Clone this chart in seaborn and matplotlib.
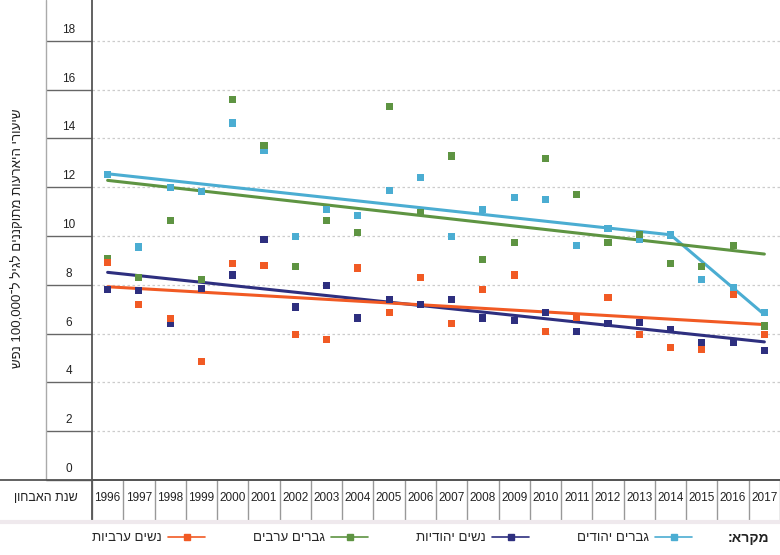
import pandas as pd
import matplotlib
matplotlib.use("Agg")
import matplotlib.pyplot as plt
from matplotlib.lines import Line2D
from matplotlib.transforms import blended_transform_factory
import seaborn as sns

# data (rate per 100,000)
years = list(range(1996, 2018))

jewish_men = [12.52, 9.55, 11.97, 11.84, 14.63, 13.5, 9.97, 11.09, 10.85, 11.86, 12.4,
              9.97, 11.1, 11.56, 11.5, 9.62, 10.29, 9.84, 10.04, 8.2, 7.88, 6.86]
arab_men = [9.08, 8.31, 10.64, 8.22, 15.61, 13.7, 8.74, 10.63, 10.14, 15.31, 10.96,
            13.28, 9.02, 9.73, 13.17, 11.71, 9.73, 10.07, 8.88, 8.74, 9.62, 6.31]
jewish_women = [7.79, 7.75, 6.42, 7.86, 8.4, 9.84, 7.09, 7.99, 6.64, 7.39, 7.19,
                7.39, 6.64, 6.54, 6.87, 6.08, 6.42, 6.46, 6.17, 5.64, 5.64, 5.29]
arab_women = [8.91, 7.19, 6.63, 4.86, 8.88, 8.8, 5.97, 5.77, 8.69, 6.87, 8.31,
              6.42, 7.8, 8.4, 6.08, 6.65, 7.49, 5.97, 5.42, 5.33, 7.61, 5.97]

# trend lines
trend_years_jm = [1996, 2014, 2017]
trend_jm = [12.55, 10.05, 6.78]
trend_years = [1996, 2017]
trend_am = [12.28, 9.26]
trend_jw = [8.51, 5.66]
trend_aw = [7.92, 6.37]

y_ticks = list(range(0, 20, 2))

names = ["גברים יהודים", "נשים יהודיות", "גברים ערבים", "נשים ערביות"]
colors = ["#4BADD2", "#2E2F7F", "#5E9442", "#F15A24"]


def heb(s):
    # matplotlib has no bidi, so give hebrew in visual order
    return s[::-1]


points = pd.concat([
    pd.DataFrame({"year": years, "rate": jewish_men, "group": names[0]}),
    pd.DataFrame({"year": years, "rate": jewish_women, "group": names[1]}),
    pd.DataFrame({"year": years, "rate": arab_men, "group": names[2]}),
    pd.DataFrame({"year": years, "rate": arab_women, "group": names[3]}),
])
trends = pd.concat([
    pd.DataFrame({"year": trend_years_jm, "rate": trend_jm, "group": names[0]}),
    pd.DataFrame({"year": trend_years, "rate": trend_jw, "group": names[1]}),
    pd.DataFrame({"year": trend_years, "rate": trend_am, "group": names[2]}),
    pd.DataFrame({"year": trend_years, "rate": trend_aw, "group": names[3]}),
])
palette = dict(zip(names, colors))

sns.set_theme(style="white")
plt.rcParams["font.family"] = ["Liberation Sans", "DejaVu Sans"]

fig = plt.figure(figsize=(7.8, 5.55), dpi=100)
ax = fig.add_axes([92 / 780, 75 / 555, 688 / 780, 480 / 555])

sns.scatterplot(data=points, x="year", y="rate", hue="group", palette=palette,
                marker="s", s=26, linewidth=0, legend=False, ax=ax, zorder=3)
sns.lineplot(data=trends, x="year", y="rate", hue="group", palette=palette,
             linewidth=2.2, legend=False, ax=ax, zorder=2)

ax.set_xlim(1995.5, 2017.5)
ax.set_ylim(0, 480 / 24.4)
ax.set_xlabel("")
ax.set_ylabel("")

# y grid + long ticks into the left column
ax.set_yticks(y_ticks)
ax.set_yticklabels([])
ax.tick_params(axis="y", length=33, width=1, color="#666666", direction="out", left=True)
ax.yaxis.grid(True, color="#cccccc", linestyle=(0, (2, 2)), linewidth=0.9)
ax.xaxis.grid(False)

# x: separators as major ticks, years as minor tick labels
ax.set_xticks([y - 0.5 for y in years] + [2017.5])
ax.set_xticklabels([])
ax.set_xticks(years, minor=True)
ax.set_xticklabels([str(y) for y in years], minor=True, fontsize=8.5, color="#222222")
ax.tick_params(axis="x", which="major", length=29, width=1, color="#999999",
               direction="out", bottom=True)
ax.tick_params(axis="x", which="minor", length=0, pad=8.5)

for side in ["top", "right"]:
    ax.spines[side].set_visible(False)
ax.spines["left"].set_color("#555555")
ax.spines["left"].set_linewidth(1.3)
ax.spines["bottom"].set_color("#555555")
ax.spines["bottom"].set_linewidth(1.3)

# y tick labels sit in the cell above each line
trans = blended_transform_factory(ax.transAxes, ax.transData)
for v in y_ticks:
    ax.text(-23 / 688, v + 0.45, str(v), transform=trans, ha="center", va="center",
            fontsize=8.5, color="#222222")

# table frame lines
fig.add_artist(Line2D([46 / 780, 46 / 780], [75 / 555, 1], color="#aaaaaa", lw=1))
fig.add_artist(Line2D([92 / 780, 92 / 780], [35 / 555, 75 / 555], color="#555555", lw=1.3))
fig.add_artist(Line2D([0, 1], [75 / 555, 75 / 555], color="#555555", lw=1.3))
fig.add_artist(Line2D([0, 1], [33 / 555, 33 / 555], color="#efe9ed", lw=3))

fig.text(46 / 780, 1 - 498 / 555, heb("שנת האבחון"), ha="center", va="center",
         fontsize=9, color="#222222")

# y axis title (visual order, rotated)
fig.text(18 / 780, 1 - 238 / 555, "שפנ 100,000־ל ליגל םיננקותמ תועראיה ירועיש",
         rotation=90, ha="center", va="center", fontsize=9.5, color="#222222")

# legend, right to left
order = [3, 2, 1, 0]
handles = [Line2D([], [], color=colors[i], marker="s", markersize=4.5, lw=1.2) for i in order]
labels = [heb(names[i]) for i in order]
fig.legend(handles, labels, loc="center", bbox_to_anchor=(392 / 780, 1 - 538 / 555),
           ncol=4, markerfirst=False, frameon=False, fontsize=9.5, handlelength=2.8,
           handletextpad=0.5, columnspacing=3.6)
fig.text(748 / 780, 1 - 538 / 555, ":ארקמ", ha="center", va="center", fontsize=10,
         fontweight="bold", color="#222222")

fig.savefig("out.png", dpi=100)
